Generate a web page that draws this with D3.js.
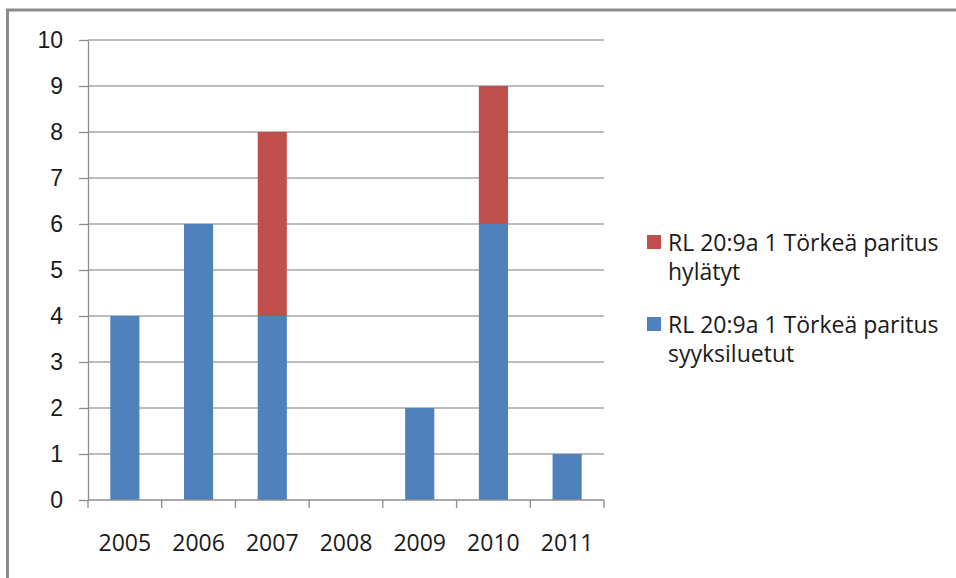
<!DOCTYPE html>
<html>
<head>
<meta charset="utf-8">
<script src="https://cdn.jsdelivr.net/npm/d3@7"></script>
<style>
  body { margin: 0; background: #fff; }
  svg { display: block; font-family: "Open Sans", sans-serif; }
</style>
</head>
<body>
<div id="chart"></div>
<script>
const years = ['2005', '2006', '2007', '2008', '2009', '2010', '2011'];
const syyksiluetut = [4, 6, 4, 0, 2, 6, 1];
const hylatyt = [0, 0, 4, 0, 0, 3, 0];
const yTicks = [0, 1, 2, 3, 4, 5, 6, 7, 8, 9, 10];
const legendItems = [
  { lines: ['RL 20:9a 1 Törkeä paritus', 'hylätyt'], color: '#C0504D' },
  { lines: ['RL 20:9a 1 Törkeä paritus', 'syyksiluetut'], color: '#4F81BD' }
];

const w = 956, h = 578;
const m = { t: 40, r: 352, b: 78, l: 88 };
const fs = 23;

const svg = d3.select('#chart').append('svg')
  .attr('width', w).attr('height', h);

// outer frame
svg.append('rect')
  .attr('x', 7.5).attr('y', 10).attr('width', w).attr('height', h)
  .attr('fill', '#fff').attr('stroke', '#8c8c8c').attr('stroke-width', 3);

const x = d3.scaleBand().domain(years).range([m.l, w - m.r]).padding(0);
const y = d3.scaleLinear().domain([0, 10]).range([h - m.b, m.t]);

// gridlines
svg.append('g').selectAll('line')
  .data(yTicks.filter(d => d > 0))
  .join('line')
  .attr('x1', m.l).attr('x2', w - m.r)
  .attr('y1', d => y(d)).attr('y2', d => y(d))
  .attr('stroke', '#a6a6a6').attr('stroke-width', 1.3);

// stacked bars
const stackData = years.map((yr, i) => ({ year: yr, s: syyksiluetut[i], hy: hylatyt[i] }));
const series = d3.stack().keys(['s', 'hy'])(stackData);
const colors = { s: '#4F81BD', hy: '#C0504D' };
const bw = x.bandwidth() * 0.395;

svg.append('g').selectAll('g')
  .data(series)
  .join('g')
  .attr('fill', d => colors[d.key])
  .selectAll('rect')
  .data(d => d.filter(p => p[1] > p[0]))
  .join('rect')
  .attr('x', d => x(d.data.year) + (x.bandwidth() - bw) / 2)
  .attr('width', bw)
  .attr('y', d => y(d[1]))
  .attr('height', d => y(d[0]) - y(d[1]));

// y axis
const yAxis = svg.append('g')
  .attr('transform', `translate(${m.l},0)`)
  .call(d3.axisLeft(y).tickValues(yTicks).tickSize(9).tickPadding(16).tickSizeOuter(0));
yAxis.select('.domain').attr('stroke', '#8c8c8c').attr('stroke-width', 1.3);
yAxis.selectAll('.tick line').attr('stroke', '#8c8c8c').attr('stroke-width', 1.3);
yAxis.selectAll('text').attr('font-size', fs).attr('fill', '#1a1a1a');

// x axis
const xAxis = svg.append('g')
  .attr('transform', `translate(0,${h - m.b})`);
xAxis.append('line')
  .attr('x1', m.l).attr('x2', w - m.r)
  .attr('stroke', '#8c8c8c').attr('stroke-width', 1.3);
xAxis.selectAll('.sep')
  .data(years.concat(['end']))
  .join('line')
  .attr('class', 'sep')
  .attr('x1', (d, i) => i < years.length ? x(d) : x(years[years.length - 1]) + x.bandwidth())
  .attr('x2', (d, i) => i < years.length ? x(d) : x(years[years.length - 1]) + x.bandwidth())
  .attr('y1', 0).attr('y2', 8)
  .attr('stroke', '#8c8c8c').attr('stroke-width', 1.3);
xAxis.selectAll('.lbl')
  .data(years)
  .join('text')
  .attr('class', 'lbl')
  .attr('x', d => x(d) + x.bandwidth() / 2)
  .attr('y', 51)
  .attr('text-anchor', 'middle')
  .attr('font-size', fs).attr('fill', '#1a1a1a')
  .text(d => d);

// legend
const lg = svg.append('g').attr('transform', 'translate(647,0)');
const legendY = [251, 333];
legendItems.forEach((item, i) => {
  const g = lg.append('g').attr('transform', `translate(0,${legendY[i]})`);
  g.append('rect').attr('x', 0).attr('y', -16).attr('width', 14).attr('height', 14)
    .attr('fill', item.color);
  item.lines.forEach((ln, j) => {
    g.append('text').attr('x', 21).attr('y', j * 29)
      .attr('font-size', fs).attr('fill', '#1a1a1a')
      .text(ln);
  });
});
</script>
</body>
</html>
